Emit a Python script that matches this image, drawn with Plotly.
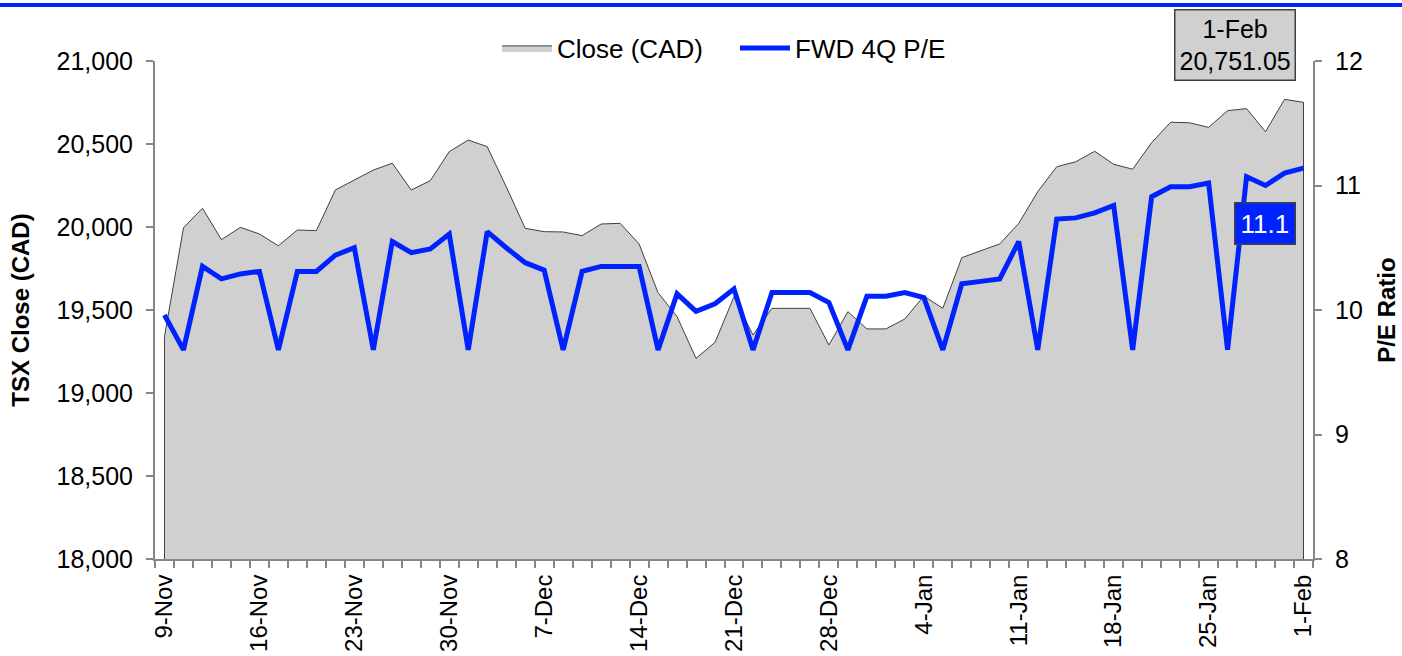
import pandas as pd
import plotly.graph_objects as go

# ---- data ----
dates = pd.bdate_range("2020-11-09", "2021-02-01")
date_labels = [f"{d.day}-{d.strftime('%b')}" for d in dates]

close_cad = [
    19340, 19995, 20113, 19924, 19998, 19958, 19887, 19982, 19978, 20223,
    20283, 20343, 20384, 20223, 20279, 20454, 20524, 20484, 20243, 19992,
    19972, 19970, 19948, 20018, 20022, 19898, 19604, 19460, 19209, 19305,
    19580, 19349, 19510, 19510, 19510, 19289, 19490, 19386, 19386, 19446,
    19584, 19510, 19815, 19857, 19898, 20022, 20213, 20363, 20393, 20456,
    20378, 20348, 20508, 20631, 20628, 20600, 20701, 20713, 20574, 20769,
    20751.05,
]
fwd_pe = [
    9.96, 9.68, 10.35, 10.25, 10.29, 10.31, 9.68, 10.31, 10.31, 10.44,
    10.50, 9.68, 10.55, 10.46, 10.49, 10.61, 9.68, 10.63, 10.50, 10.38,
    10.32, 9.68, 10.31, 10.35, 10.35, 10.35, 9.68, 10.13, 9.99, 10.05,
    10.17, 9.68, 10.14, 10.14, 10.14, 10.06, 9.68, 10.11, 10.11, 10.14,
    10.10, 9.68, 10.21, 10.23, 10.25, 10.55, 9.68, 10.73, 10.74, 10.78,
    10.84, 9.68, 10.91, 10.99, 10.99, 11.02, 9.68, 11.07, 11.00, 11.10,
    11.14,
]
left_range = [18000, 21000]
right_range = [8, 12]

n = len(close_cad)
idx = list(range(n))
tick_idx = idx[::5]
tick_text = [date_labels[i] for i in tick_idx]

FONT = "Liberation Sans, Arial, sans-serif"
BLUE = "#0022FF"
GREY_FILL = "#D0D0D0"
AXIS = "#868686"
FH = 25   # horizontal text
FV = 24   # rotated text

W, H = 1402, 656
L, R, T, B = 155, 1313, 61, 559
PW, PH = R - L, B - T


def px(x):
    return (x - L) / PW


def py(y):
    return (B - y) / PH


fig = go.Figure()

# area polygon closed down to the axis minimum so the side edges are outlined
area_x = [idx[0]] + idx + [idx[-1]]
area_y = [left_range[0]] + close_cad + [left_range[0]]
fig.add_trace(go.Scatter(
    x=area_x, y=area_y, name="Close (CAD)", mode="lines",
    line=dict(color="#404040", width=1), fill="toself", fillcolor=GREY_FILL,
    hoverinfo="skip",
))
fig.add_trace(go.Scatter(
    x=idx, y=fwd_pe, name="FWD 4Q P/E", mode="lines",
    line=dict(color=BLUE, width=5), yaxis="y2",
))

fig.update_layout(
    width=W, height=H,
    margin=dict(l=L, r=W - R, t=T, b=H - B, autoexpand=False),
    paper_bgcolor="white", plot_bgcolor="white",
    font=dict(family=FONT, size=FH, color="black"),
    showlegend=True,
    legend=dict(orientation="h", x=px(497), xanchor="left", y=py(48), yanchor="middle",
                font=dict(size=26), bgcolor="rgba(0,0,0,0)", itemwidth=50,
                entrywidth=173, entrywidthmode="pixels", tracegroupgap=0),
    xaxis=dict(
        range=[-0.5, n - 0.5], tickmode="array", tickvals=tick_idx, ticktext=tick_text,
        tickangle=-90, ticks="", showgrid=False, zeroline=False,
        showline=True, linecolor=AXIS, linewidth=2, ticklabelstandoff=4,
        tickfont=dict(size=FV),
        minor=dict(tickmode="linear", tick0=-0.5, dtick=1, ticks="outside",
                   ticklen=7, tickcolor=AXIS, tickwidth=1.5, showgrid=False),
    ),
    yaxis=dict(
        range=left_range, dtick=500, tickformat=",", ticks="outside", ticklen=7,
        tickcolor=AXIS, tickwidth=1.5, showline=True, linecolor=AXIS, linewidth=2,
        showgrid=False, zeroline=False, tickfont=dict(size=FH), ticklabelstandoff=8,
        title=dict(text="<b>TSX Close (CAD)</b>", font=dict(size=FV), standoff=20),
    ),
    yaxis2=dict(
        range=right_range, dtick=1, overlaying="y", side="right", ticks="outside",
        ticklen=7, tickcolor=AXIS, tickwidth=1.5, showline=True, linecolor=AXIS,
        linewidth=2, showgrid=False, zeroline=False, tickfont=dict(size=FH),
        ticklabelstandoff=8,
        title=dict(text="<b>P/E Ratio</b>", font=dict(size=FV), standoff=16),
    ),
)

# top blue rule
fig.add_shape(type="line", xref="paper", yref="paper",
              x0=px(0), x1=px(W), y0=py(5), y1=py(5),
              line=dict(color=BLUE, width=4))

# last close call-out
fig.add_annotation(
    xref="paper", yref="paper", x=px(1235), y=py(45),
    xanchor="center", yanchor="middle", showarrow=False,
    text=f"{date_labels[-1]}<br>{close_cad[-1]:,.2f}",
    font=dict(size=FH, color="black"), bgcolor=GREY_FILL,
    bordercolor="#404040", borderwidth=1.5, borderpad=4,
)
# last P/E call-out
fig.add_annotation(
    xref="paper", yref="paper", x=px(1265), y=py(224),
    xanchor="center", yanchor="middle", showarrow=False,
    text=f"{fwd_pe[-1]:.1f}",
    font=dict(size=26, color="white"), bgcolor=BLUE,
    bordercolor="#404040", borderwidth=1.5, borderpad=5,
)

fig.write_html(
    "out.html",
    config={"displayModeBar": False},
    post_script="document.body.style.margin='0';document.body.style.overflow='hidden';",
)
